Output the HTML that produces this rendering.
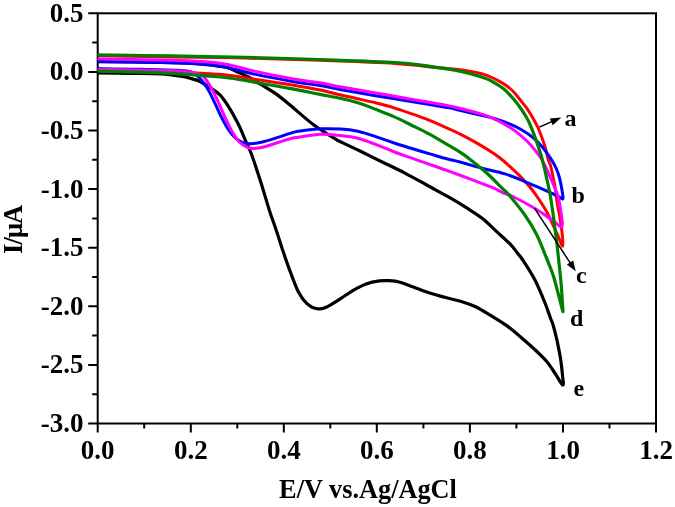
<!DOCTYPE html>
<html><head><meta charset="utf-8"><title>CV</title>
<style>html,body{margin:0;padding:0;background:#fff}svg{display:block}</style></head>
<body>
<svg width="675" height="507" viewBox="0 0 675 507">
<rect width="675" height="507" fill="#fff"/>
<rect x="97.7" y="13.3" width="558.3" height="410.2" fill="none" stroke="#000" stroke-width="2"/>
<path d="M88.2,13.3H97.7M92.2,42.6H97.7M88.2,71.9H97.7M92.2,101.2H97.7M88.2,130.5H97.7M92.2,159.8H97.7M88.2,189.1H97.7M92.2,218.4H97.7M88.2,247.7H97.7M92.2,277.0H97.7M88.2,306.3H97.7M92.2,335.6H97.7M88.2,364.9H97.7M92.2,394.2H97.7M88.2,423.5H97.7M97.7,423.5V432.5M144.2,423.5V428.5M190.8,423.5V432.5M237.3,423.5V428.5M283.8,423.5V432.5M330.3,423.5V428.5M376.8,423.5V432.5M423.4,423.5V428.5M469.9,423.5V432.5M516.4,423.5V428.5M563.0,423.5V432.5M609.5,423.5V428.5M656.0,423.5V432.5" stroke="#000" stroke-width="2" fill="none"/>
<g fill="none" stroke-linejoin="round" stroke-linecap="butt">
<path d="M97.7,73.0C103.1,73.0 119.3,73.2 130.0,73.3C140.7,73.4 152.7,73.2 161.7,73.8C170.7,74.4 179.2,76.0 183.9,76.7C188.6,77.5 187.5,77.6 190.0,78.3C192.5,79.0 195.6,79.5 198.9,81.0C202.2,82.5 206.2,85.1 209.8,87.5C213.4,89.9 217.0,91.9 220.2,95.2C223.4,98.5 226.1,102.9 229.1,107.6C232.1,112.3 235.3,118.3 238.0,123.6C240.7,128.9 242.9,134.6 245.1,139.6C247.3,144.6 248.7,146.8 251.3,153.8C253.9,160.8 257.6,172.2 260.6,181.6C263.6,191.0 267.0,202.9 269.4,210.4C271.8,217.9 272.9,220.4 275.0,226.5C277.1,232.6 279.3,240.0 281.7,247.2C284.1,254.3 286.6,262.0 289.4,269.4C292.2,276.8 295.3,285.9 298.3,291.7C301.3,297.4 304.1,301.0 307.2,303.9C310.3,306.8 314.0,308.2 317.2,308.8C320.4,309.4 322.4,308.8 326.1,307.2C329.8,305.6 334.9,302.2 339.4,299.4C343.8,296.6 348.4,293.2 352.8,290.6C357.2,288.0 361.7,285.5 366.1,283.9C370.5,282.3 375.6,281.4 379.4,280.9C383.2,280.4 385.5,280.5 388.9,280.7C392.3,280.9 395.9,281.1 400.0,282.2C404.1,283.3 408.5,285.4 413.3,287.1C418.1,288.9 423.3,290.9 428.9,292.7C434.5,294.5 441.1,296.3 446.7,297.8C452.2,299.3 457.4,300.3 462.2,301.8C467.0,303.3 470.8,304.4 475.6,306.7C480.4,309.0 485.9,312.5 491.1,315.6C496.3,318.8 501.9,322.1 506.7,325.6C511.5,329.1 515.4,332.5 520.0,336.5C524.6,340.5 530.2,345.3 534.6,349.4C539.0,353.5 543.0,357.2 546.5,361.3C550.0,365.4 552.7,369.9 555.4,373.9C558.1,377.8 561.6,384.8 562.8,385.0C564.0,385.2 562.9,379.7 562.5,375.4C562.1,371.1 561.5,365.0 560.6,359.1C559.7,353.2 558.1,345.5 556.9,339.8C555.6,334.1 554.1,328.4 553.1,325.0C552.1,321.6 552.2,323.0 550.9,319.3C549.5,315.6 547.7,309.7 545.0,303.0C542.3,296.3 538.3,286.5 534.6,279.3C530.9,272.1 525.7,264.4 522.8,260.0C519.9,255.6 519.5,255.7 517.4,253.0C515.3,250.3 513.6,247.6 510.0,243.9C506.4,240.2 500.2,234.9 495.6,230.6C491.0,226.3 487.0,222.1 482.2,218.3C477.4,214.5 472.2,211.4 466.7,207.9C461.1,204.4 455.6,201.0 448.9,197.2C442.2,193.4 434.1,189.1 426.7,185.0C419.3,180.9 411.8,176.6 404.4,172.8C397.0,169.0 389.6,165.6 382.2,162.0C374.8,158.4 367.0,154.4 360.0,151.0C353.0,147.6 344.0,143.4 340.0,141.5C336.0,139.6 340.5,142.2 336.1,139.4C331.8,136.7 321.6,130.7 313.9,125.0C306.2,119.3 296.4,110.3 290.0,105.0C283.6,99.7 280.1,96.8 275.3,93.4C270.5,90.0 265.4,87.2 261.0,84.5C256.6,81.8 253.0,79.3 248.6,77.0C244.2,74.7 238.4,72.3 234.4,70.6C230.4,68.9 231.2,68.1 224.6,66.9C218.0,65.7 205.5,64.4 195.0,63.6C184.5,62.9 177.9,62.7 161.7,62.4C145.5,62.1 108.4,61.7 97.7,61.6" stroke="#000000" stroke-width="3.2"/>
<path d="M97.7,70.5C108.4,70.8 145.5,71.6 161.7,72.0C177.9,72.4 184.5,72.5 195.0,73.0C205.5,73.5 216.3,74.0 224.6,74.8C232.9,75.6 240.1,77.0 245.0,77.8C249.9,78.5 246.0,78.0 254.3,79.3C262.6,80.6 284.1,83.7 295.0,85.5C305.9,87.3 312.5,88.5 320.0,90.0C327.5,91.5 333.7,93.3 340.0,94.8C346.3,96.3 351.9,97.5 357.8,98.8C363.7,100.1 369.7,101.3 375.6,102.8C381.5,104.3 387.4,105.8 393.3,107.6C399.2,109.4 405.2,111.5 411.1,113.6C417.0,115.7 423.0,117.8 428.9,120.2C434.8,122.6 441.2,125.4 446.7,127.8C452.2,130.2 456.5,132.2 461.7,134.8C466.9,137.4 472.8,140.7 477.8,143.6C482.8,146.5 487.8,149.6 491.9,152.3C496.0,155.0 499.5,157.6 502.5,160.0C505.5,162.4 507.1,164.0 510.0,166.7C512.9,169.3 516.2,172.1 519.8,175.9C523.4,179.7 528.0,184.6 531.7,189.3C535.4,194.0 539.3,199.8 542.0,204.0C544.7,208.2 545.5,209.4 548.0,214.3C550.5,219.2 554.4,228.2 556.9,233.5C559.4,238.8 561.9,246.6 562.8,246.3C563.6,246.1 562.5,236.8 562.0,232.0C561.5,227.2 560.6,222.4 559.8,217.2C558.9,212.0 557.6,205.7 556.9,201.0C556.2,196.3 556.4,195.0 555.4,189.3C554.4,183.6 552.1,172.0 550.9,167.0C549.7,162.0 549.0,162.6 548.1,159.3C547.2,156.0 546.3,151.2 545.2,147.4C544.1,143.6 542.8,140.0 541.6,136.7C540.4,133.4 539.3,130.6 537.9,127.5C536.5,124.4 534.8,121.3 533.0,118.2C531.2,115.1 529.2,111.8 527.1,108.7C525.0,105.6 522.5,102.8 520.1,99.8C517.7,96.8 515.9,93.9 512.8,91.0C509.7,88.1 506.5,85.4 501.7,82.6C496.9,79.8 490.6,76.5 483.9,74.4C477.2,72.3 471.0,71.3 461.7,70.0C452.4,68.7 439.4,67.8 428.3,66.7C417.2,65.6 413.1,64.5 395.0,63.4C376.9,62.3 345.0,61.2 320.0,60.3C295.0,59.4 270.0,58.7 245.0,58.1C220.0,57.5 194.6,57.3 170.0,56.9C145.4,56.5 109.8,55.9 97.7,55.7" stroke="#ff0000" stroke-width="3.0"/>
<path d="M97.7,68.6C104.8,68.7 125.6,68.9 140.0,69.3C154.4,69.7 175.1,70.1 183.9,70.7C192.7,71.3 190.2,71.6 193.0,73.0C195.8,74.4 198.2,76.5 200.7,79.2C203.2,81.9 205.4,85.0 207.8,89.0C210.2,93.0 212.5,98.3 214.9,103.2C217.3,108.1 219.6,113.7 222.0,118.3C224.4,122.9 226.7,127.3 229.1,130.7C231.5,134.1 233.8,136.7 236.2,138.7C238.6,140.7 240.9,141.8 243.3,142.6C245.7,143.4 247.5,143.8 250.4,143.7C253.3,143.6 256.9,143.2 261.0,142.3C265.1,141.4 270.5,139.7 275.3,138.2C280.1,136.7 286.2,134.6 290.0,133.4C293.8,132.2 293.2,132.0 298.3,131.2C303.4,130.4 313.6,129.2 320.6,128.8C327.7,128.5 334.4,128.7 340.6,129.1C346.8,129.5 352.0,130.1 357.8,131.3C363.6,132.6 369.7,134.7 375.6,136.6C381.5,138.5 387.4,140.9 393.3,142.8C399.2,144.8 405.2,146.5 411.1,148.3C417.0,150.1 423.0,151.8 428.9,153.6C434.8,155.3 441.5,157.4 446.7,158.8C451.9,160.2 454.1,160.4 460.0,162.0C465.9,163.6 474.7,166.3 482.2,168.3C489.7,170.3 497.5,171.5 505.0,173.9C512.5,176.3 519.8,179.6 527.2,182.6C534.6,185.6 544.0,189.7 549.4,192.2C554.8,194.7 557.5,196.4 559.8,197.4C562.1,198.4 562.8,200.2 563.0,198.3C563.2,196.5 561.9,189.7 561.3,186.3C560.7,182.9 560.2,180.7 559.5,178.0C558.8,175.3 557.8,172.3 556.9,170.0C556.0,167.7 555.2,166.2 554.0,164.0C552.8,161.8 551.3,159.5 549.4,156.7C547.5,153.9 545.5,150.5 542.8,147.4C540.1,144.3 536.8,140.9 533.3,137.9C529.8,134.9 525.5,132.0 521.5,129.7C517.5,127.4 514.0,125.7 509.6,123.9C505.2,122.1 499.9,120.2 495.0,118.7C490.1,117.2 485.6,116.3 480.0,115.0C474.4,113.7 467.2,112.1 461.7,110.8C456.1,109.5 455.1,109.0 446.7,107.4C438.3,105.9 423.0,103.5 411.1,101.5C399.2,99.5 387.5,97.7 375.6,95.7C363.8,93.7 349.3,91.1 340.0,89.4C330.7,87.7 327.5,86.8 320.0,85.6C312.5,84.3 305.9,83.8 295.0,81.9C284.1,80.0 266.0,76.6 254.3,74.1C242.6,71.6 234.5,68.7 224.6,66.9C214.7,65.2 205.5,64.4 195.0,63.6C184.5,62.9 177.9,62.7 161.7,62.4C145.5,62.1 108.4,61.7 97.7,61.6" stroke="#0000ff" stroke-width="3.0"/>
<path d="M97.7,69.2C104.8,69.3 128.0,69.8 140.0,70.0C152.1,70.2 161.7,70.2 170.0,70.5C178.3,70.8 185.3,71.4 190.0,72.0C194.7,72.6 195.6,73.1 198.0,74.0C200.4,74.9 202.0,75.1 204.2,77.4C206.4,79.8 208.9,83.9 211.3,88.1C213.7,92.2 216.0,97.3 218.4,102.3C220.8,107.3 223.1,113.3 225.5,118.3C227.9,123.3 230.2,128.5 232.6,132.5C235.0,136.5 237.3,139.9 239.7,142.3C242.1,144.7 244.4,146.1 246.8,147.1C249.2,148.1 250.9,148.6 253.9,148.5C256.9,148.4 260.5,147.7 264.6,146.7C268.8,145.7 274.6,143.6 278.8,142.3C283.0,141.0 286.8,139.5 290.0,138.7C293.2,137.8 293.2,137.9 298.3,137.2C303.4,136.5 313.6,134.6 320.6,134.3C327.7,134.0 334.4,134.8 340.6,135.5C346.8,136.2 352.0,136.8 357.8,138.3C363.6,139.8 369.7,142.2 375.6,144.4C381.5,146.6 387.4,149.2 393.3,151.5C399.2,153.8 405.2,155.8 411.1,157.9C417.0,160.0 422.6,161.9 428.9,164.1C435.2,166.3 441.9,168.6 448.9,171.2C455.9,173.8 463.7,176.6 471.1,179.4C478.5,182.2 487.7,185.5 493.3,187.9C498.9,190.3 502.1,192.4 505.0,193.7C507.9,195.0 506.0,193.1 510.9,195.5C515.8,197.9 527.7,204.2 534.6,208.3C541.5,212.4 547.8,217.2 552.4,220.2C557.0,223.2 560.6,228.2 562.0,226.5C563.4,224.8 561.3,215.1 560.6,209.8C559.9,204.6 559.2,200.2 557.6,195.0C556.0,189.8 552.7,183.2 550.9,178.9C549.1,174.6 548.1,172.2 546.6,168.9C545.1,165.6 543.4,162.3 541.6,159.3C539.8,156.3 538.1,154.0 535.7,151.0C533.3,148.0 530.8,144.8 527.4,141.5C524.0,138.2 519.6,134.4 515.6,131.4C511.7,128.4 507.6,126.0 503.7,123.7C499.8,121.4 495.8,119.5 491.9,117.8C487.9,116.1 485.0,115.1 480.0,113.6C475.0,112.1 467.2,110.2 461.7,108.8C456.1,107.4 455.1,107.0 446.7,105.4C438.3,103.8 423.0,101.3 411.1,99.2C399.2,97.1 387.5,95.1 375.6,93.0C363.8,90.9 349.3,88.5 340.0,86.8C330.7,85.1 327.5,84.0 320.0,82.8C312.5,81.5 305.9,81.2 295.0,79.3C284.1,77.3 266.0,73.7 254.3,71.1C242.6,68.5 234.5,65.5 224.6,63.9C214.7,62.2 205.5,61.9 195.0,61.2C184.5,60.5 177.9,60.2 161.7,59.9C145.5,59.5 108.4,59.2 97.7,59.1" stroke="#ff00ff" stroke-width="3.0"/>
<path d="M97.7,71.1C108.4,71.4 145.5,72.2 161.7,72.9C177.9,73.6 184.5,74.2 195.0,75.0C205.5,75.8 216.3,76.6 224.6,77.5C232.9,78.4 240.1,79.6 245.0,80.4C249.9,81.2 246.0,80.7 254.3,82.2C262.6,83.7 284.1,87.3 295.0,89.3C305.9,91.3 312.5,92.9 320.0,94.4C327.5,95.9 333.7,96.9 340.0,98.3C346.3,99.7 351.9,101.0 357.8,102.8C363.7,104.6 369.7,107.0 375.6,109.3C381.5,111.6 387.4,113.8 393.3,116.4C399.2,119.0 405.2,122.1 411.1,125.0C417.0,127.9 423.0,130.7 428.9,133.9C434.8,137.1 441.5,141.1 446.7,144.2C451.9,147.2 455.9,149.5 460.0,152.2C464.1,154.9 466.7,156.7 471.1,160.2C475.6,163.7 481.9,168.7 486.7,173.0C491.5,177.3 496.2,182.3 500.0,186.1C503.8,189.8 505.3,190.8 509.4,195.5C513.4,200.2 519.8,208.0 524.3,214.3C528.8,220.6 532.6,226.8 536.1,233.5C539.6,240.2 542.5,248.4 545.0,254.3C547.5,260.2 549.4,265.2 550.9,269.1C552.4,273.0 552.5,273.2 553.9,277.8C555.3,282.4 557.6,291.4 559.1,297.0C560.6,302.6 562.2,310.1 562.8,311.3C563.4,312.5 562.8,309.2 562.5,304.4C562.2,299.5 561.6,288.9 561.0,282.2C560.4,275.5 559.8,270.4 559.1,264.0C558.4,257.6 557.8,251.2 556.9,243.9C556.0,236.6 555.0,228.3 553.9,220.2C552.8,212.0 551.6,202.9 550.2,195.0C548.8,187.1 546.8,178.9 545.5,173.0C544.2,167.1 543.2,163.2 542.2,159.3C541.2,155.4 540.4,153.2 539.3,149.8C538.2,146.4 536.9,142.5 535.7,139.1C534.5,135.7 533.5,132.9 532.1,129.6C530.7,126.2 529.2,122.3 527.4,119.0C525.6,115.7 523.7,112.7 521.5,109.5C519.3,106.3 517.3,103.4 514.4,100.0C511.5,96.6 507.5,92.0 503.9,89.0C500.3,86.0 496.3,83.9 493.0,82.0C489.7,80.1 489.1,79.5 483.9,77.8C478.7,76.1 471.0,73.5 461.7,71.6C452.4,69.7 439.4,67.7 428.3,66.2C417.2,64.7 413.1,63.6 395.0,62.5C376.9,61.4 345.0,60.4 320.0,59.5C295.0,58.6 270.0,57.9 245.0,57.3C220.0,56.7 194.6,56.3 170.0,55.9C145.4,55.5 109.8,55.0 97.7,54.8" stroke="#008000" stroke-width="3.2"/>
</g>
<g font-family="'Liberation Serif', 'Times New Roman', serif" font-weight="bold" font-size="26" fill="#000">
<text x="83.6" y="21.8" text-anchor="end" font-size="27">0.5</text>
<text x="83.6" y="80.4" text-anchor="end" font-size="27">0.0</text>
<text x="83.6" y="139.0" text-anchor="end" font-size="27">-0.5</text>
<text x="83.6" y="197.6" text-anchor="end" font-size="27">-1.0</text>
<text x="83.6" y="256.2" text-anchor="end" font-size="27">-1.5</text>
<text x="83.6" y="314.8" text-anchor="end" font-size="27">-2.0</text>
<text x="83.6" y="373.4" text-anchor="end" font-size="27">-2.5</text>
<text x="83.6" y="432.0" text-anchor="end" font-size="27">-3.0</text>
<text x="97.7" y="458.9" text-anchor="middle" font-size="27">0.0</text>
<text x="190.8" y="458.9" text-anchor="middle" font-size="27">0.2</text>
<text x="283.8" y="458.9" text-anchor="middle" font-size="27">0.4</text>
<text x="376.8" y="458.9" text-anchor="middle" font-size="27">0.6</text>
<text x="469.9" y="458.9" text-anchor="middle" font-size="27">0.8</text>
<text x="563.0" y="458.9" text-anchor="middle" font-size="27">1.0</text>
<text x="656.0" y="458.9" text-anchor="middle" font-size="27">1.2</text>
<text x="368" y="497.8" text-anchor="middle" font-size="26.3">E/V vs.Ag/AgCl</text>
<text transform="translate(22.2,229.8) rotate(-90)" text-anchor="middle" font-size="26.5" letter-spacing="-0.9">I/μA</text>
</g>
<g font-family="'Liberation Serif', 'Times New Roman', serif" font-weight="bold" font-size="24" fill="#000">
<text x="564.5" y="126.1">a</text>
<text x="571.5" y="202.9">b</text>
<text x="576" y="283.4">c</text>
<text x="570" y="325.5">d</text>
<text x="573.5" y="396.3">e</text>
</g>
<g stroke="#000" stroke-width="1.5" fill="#000">
<line x1="539.4" y1="127.1" x2="554" y2="120.6"/>
<polygon points="561.3,117.4 552.7,125.2 549.8,118.6" stroke="none"/>
<line x1="534.6" y1="208.3" x2="571" y2="264.2"/>
<polygon points="575.7,271.3 566.8,264.6 573.2,260.4" stroke="none"/>
</g>
</svg>
</body></html>
